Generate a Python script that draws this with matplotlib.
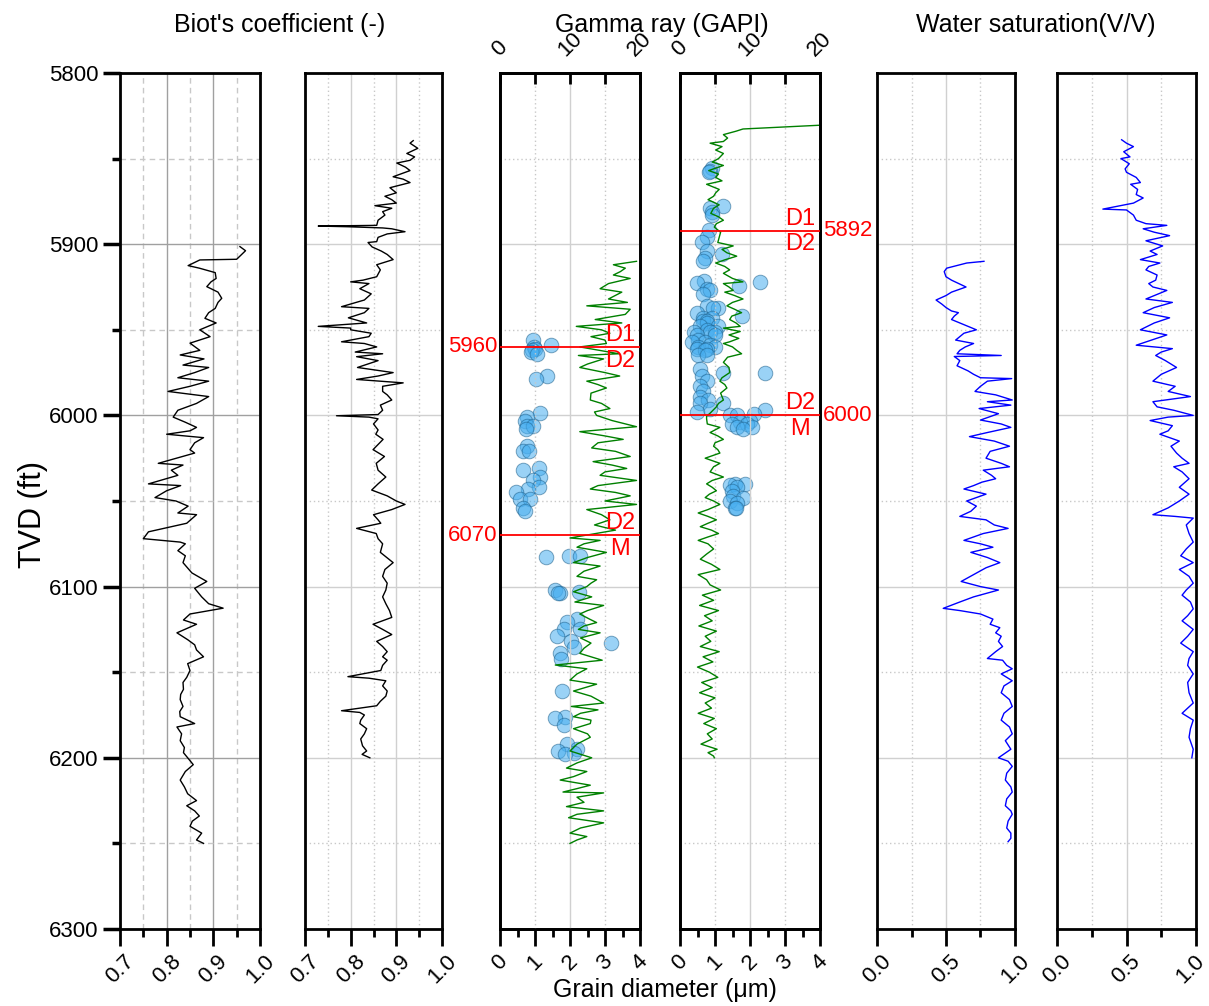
import numpy as np
import matplotlib
matplotlib.use("Agg")
import matplotlib.pyplot as plt
import matplotlib.transforms as mtransforms
from matplotlib.ticker import MultipleLocator, FixedLocator

plt.rcParams['font.family'] = ['Liberation Sans', 'DejaVu Sans']

# ---- dados (profundidade TVD em ft, valor) ----
biot1 = [(5901.4,0.957),(5903.8,0.969),(5908.8,0.95),(5909.2,0.871),(5912.5,0.846),(5914,0.87),(5916.6,0.904),
         (5920,0.906),(5922,0.895),(5924.8,0.886),(5928,0.91),(5931.6,0.918),(5934,0.91),(5937.5,0.904),(5940,0.89),
         (5943.3,0.882),(5946,0.906),(5950,0.871),(5954,0.893),(5957.8,0.85),(5962,0.871),(5964.7,0.829),(5967,0.88),
         (5970.6,0.835),(5972,0.89),(5975,0.86),(5978,0.824),(5980,0.89),(5983,0.85),(5986,0.803),(5989,0.89),
         (5993,0.864),(5997,0.824),(6001,0.814),(6004,0.84),(6007,0.864),(6009,0.85),(6011,0.80),(6013,0.879),
         (6016,0.86),(6020,0.85),(6022,0.86),(6028,0.782),(6029,0.835),(6032,0.81),(6035,0.824),(6040,0.761),
         (6041,0.83),(6044,0.8),(6048,0.775),(6050,0.82),(6053,0.846),(6057,0.824),(6058,0.864),(6063,0.843),
         (6068,0.761),(6072,0.75),(6074,0.829),(6075,0.84),(6079,0.824),(6082,0.84),(6086,0.835),(6092,0.854),
         (6097,0.886),(6101,0.86),(6106,0.875),(6110,0.89),(6112.6,0.921),(6116,0.85),(6119.5,0.836),(6122,0.864),
         (6127,0.822),(6131,0.845),(6134,0.86),(6137,0.864),(6141,0.879),(6145,0.845),(6149,0.85),(6153,0.843),
         (6156,0.835),(6160,0.836),(6163,0.83),(6166,0.829),(6170,0.835),(6173,0.828),(6176,0.829),(6180,0.86),
         (6182,0.822),(6186,0.832),(6190,0.829),(6194,0.838),(6197,0.836),(6200,0.845),(6204,0.857),(6208,0.84),
         (6213,0.829),(6217,0.838),(6221,0.845),(6225,0.864),(6228,0.843),(6231,0.86),(6234,0.87),(6237,0.855),
         (6240,0.85),(6244,0.875),(6248,0.864),(6250,0.879)]

biot2 = [(5839.5,0.937),(5841,0.93),(5844,0.947),(5847,0.923),(5849,0.94),(5851,0.93),(5852.6,0.901),(5855,0.92),
         (5857,0.93),(5860.6,0.893),(5862,0.915),(5864,0.93),(5867,0.886),(5870,0.9),(5872,0.875),(5874,0.89),
         (5876,0.9),(5877.5,0.853),(5879,0.89),(5881,0.87),(5883,0.875),(5886,0.86),(5889,0.857),(5889.4,0.729),
         (5889.8,0.794),(5890.5,0.87),(5891,0.89),(5892.7,0.919),(5894,0.88),(5896,0.86),(5898.5,0.857),(5899,0.838),
         (5901.6,0.847),(5904,0.867),(5906,0.88),(5909,0.893),(5912,0.857),(5915,0.865),(5919,0.857),(5921,0.827),
         (5922,0.80),(5923,0.84),(5926,0.82),(5929,0.845),(5932.6,0.83),(5936.5,0.78),(5937.5,0.84),(5940,0.83),
         (5943,0.795),(5946,0.835),(5948,0.729),(5949,0.8),(5950,0.8),(5952,0.845),(5954,0.84),(5957,0.78),
         (5958,0.83),(5960,0.857),(5963,0.81),(5964,0.87),(5965.7,0.813),(5968,0.86),(5972,0.815),(5975,0.893),
         (5977,0.86),(5979,0.813),(5981,0.915),(5983,0.87),(5986,0.87),(5988,0.88),(5991,0.89),(5994,0.865),
         (5997,0.87),(5999.5,0.86),(6000.2,0.769),(6001,0.84),(6002,0.86),(6005,0.85),(6008.5,0.86),(6011,0.855),
         (6014,0.871),(6017,0.86),(6020,0.849),(6024,0.874),(6028,0.856),(6032,0.86),(6036,0.877),(6040,0.86),
         (6043.6,0.846),(6047,0.88),(6050,0.9),(6052,0.919),(6055,0.89),(6058,0.85),(6061,0.86),(6063,0.866),
         (6066,0.813),(6069,0.856),(6072,0.86),(6075,0.87),(6080,0.865),(6086,0.893),(6090,0.875),(6094,0.87),
         (6098,0.88),(6102,0.877),(6106,0.87),(6110,0.877),(6114,0.885),(6118,0.89),(6122,0.849),(6125,0.87),
         (6128,0.89),(6132,0.857),(6135,0.87),(6138,0.88),(6141,0.87),(6143,0.88),(6146,0.87),(6149,0.866),
         (6152.6,0.794),(6153.5,0.84),(6155,0.877),(6158,0.87),(6161,0.88),(6164,0.877),(6167,0.865),(6169.6,0.857),
         (6172.5,0.78),(6173.5,0.82),(6175,0.83),(6178,0.822),(6180,0.82),(6183,0.835),(6186,0.83),(6189,0.822),
         (6193,0.826),(6196,0.835),(6198,0.825),(6200,0.842)]

gr3 = [(5910,19.5),(5912,16.2),(5914,17.9),(5916,17.2),(5918,16.2),(5920,18.6),(5923,15.5),(5926,14.3),(5928,17.4),
       (5932,15.5),(5934,18.2),(5936,12.4),(5938,18.6),(5941,17.9),(5944,13.6),(5946,17.4),(5948,10.9),(5950,14.5),
       (5952,15.7),(5954,13.0),(5956,15.0),(5958,15.2),(5960,11.4),(5962,14.2),(5964,17.0),(5965,11.2),(5967,14.8),
       (5970,12.5),(5972,11.4),(5975,15.0),(5977,17.1),(5980,12.4),(5982,14.0),(5984,15.2),(5987,13.0),(5991,12.9),
       (5993,14.5),(5996,15.7),(5998,13.5),(6000,13.8),(6003,16.0),(6006.6,19.5),(6009.5,11.4),(6012,15.0),
       (6014,17.6),(6016,14.0),(6019,13.1),(6021,16.5),(6024,18.6),(6027,13.3),(6029,16.0),(6031,18.1),(6033,15.0),
       (6035,14.3),(6038,19.5),(6041,14.0),(6043,12.9),(6045,16.5),(6047,18.6),(6050,15.0),(6052,19.5),(6055,12.4),
       (6058,14.5),(6061,15.7),(6064,13.5),(6067,16.5),(6071.6,10.0),(6073,14.3),(6075,12.0),(6077,11.0),
       (6080,15.2),(6083,12.5),(6086,10.5),(6088,14.3),(6091,12.0),(6094,11.0),(6096,13.8),(6098,13.0),(6100,12.4),
       (6103,10.5),(6106,13.1),(6109,10.7),(6111,14.8),(6114,12.5),(6116,11.4),(6119,12.8),(6121,13.8),(6123,12.0),
       (6125,11.2),(6127,14.3),(6130,11.5),(6133,13.0),(6136,12.0),(6139,11.4),(6143,14.6),(6145.8,7.9),(6148,12.4),
       (6151,11.0),(6154.6,10.0),(6157,13.8),(6161,10.5),(6164,13.0),(6168,14.8),(6170,10.2),(6172,14.0),
       (6174,11.5),(6176,10.5),(6178,13.0),(6180,12.9),(6183,10.5),(6186,12.5),(6188,12.9),(6192,11.0),(6196,10.0),
       (6200,13.1),(6203,11.0),(6206,9.5),(6208,12.4),(6211,10.5),(6213,8.6),(6216,12.9),(6218,11.0),(6220,9.0),
       (6220.5,14.8),(6223,11.0),(6226,12.0),(6228.5,9.5),(6231,14.8),(6233,11.0),(6235,9.8),(6238,14.8),
       (6241,11.5),(6244,10.0),(6246,12.4),(6248,11.0),(6250,10.0)]

grain3 = [(5956,0.95),(5959,1.46),(5960,0.97),(5961,1.0),(5962,0.9),(5963,0.88),(5964,1.05),(5977,1.33),(5979,1.03),
          (5998.6,1.13),(6000.7,0.76),(6003,0.71),(6006,0.76),(6006,0.93),(6008,0.74),(6018,0.78),(6021,0.67),
          (6021,0.84),(6031,1.1),(6032,0.67),(6036,1.14),(6038,0.95),(6042,1.1),(6043,0.81),(6045,0.46),(6049,0.57),
          (6049,0.86),(6054,0.67),(6056,0.71),(6082,1.98),(6082,2.29),(6083,1.31),(6102,1.57),(6103,2.26),
          (6104,1.71),(6104,1.65),(6119,2.2),(6120.5,1.9),(6125,1.83),(6125,2.29),(6129,1.64),(6132,2.02),
          (6133,3.17),(6135,2.12),(6139,1.71),(6142,1.73),(6161,1.78),(6176,1.86),(6177,1.57),(6181,1.83),
          (6192,1.9),(6195,2.2),(6196,1.67),(6197,2.1),(6198,1.86)]

gr4 = [(5830.5,20.0),(5832.7,9.0),(5834,8.0),(5836,6.2),(5838,6.8),(5840,6.2),(5841,4.3),(5843,6.0),(5845,5.1),
       (5847,6.2),(5850,5.5),(5852,4.6),(5854,6.2),(5857,4.1),(5859,5.5),(5861,5.1),(5863,6.0),(5865,3.8),(5868,5.6),
       (5870,5.1),(5872,4.8),(5874,4.0),(5877,5.6),(5879,4.8),(5882,4.4),(5884,5.5),(5886,6.2),(5888,5.2),(5890,4.9),
       (5893,5.8),(5896,5.6),(5899,5.4),(5901,7.6),(5903,6.0),(5905,6.7),(5907,8.1),(5909,6.5),(5911,5.1),(5913,6.4),
       (5915,7.1),(5917,6.2),(5920,7.5),(5922,9.0),(5923,6.2),(5925,7.0),(5927,7.6),(5928,6.4),(5930,7.8),(5932,9.0),
       (5934,7.5),(5936,6.7),(5938,7.8),(5940,8.8),(5942,7.4),(5944,7.1),(5946,8.0),(5948,8.6),(5949,6.2),(5951,8.6),
       (5953,7.0),(5955,8.4),(5957,7.1),(5958,6.2),(5960,7.5),(5962,8.1),(5964,8.8),(5966,6.8),(5969,6.2),(5972,7.0),
       (5975,7.1),(5978,6.0),(5980,5.7),(5982,6.4),(5984,6.7),(5987,5.8),(5991,6.2),(5993,5.5),(5995,5.2),
       (5998.7,4.3),(6000.5,3.8),(6002,3.8),(6005,3.9),(6007,5.7),(6010,4.3),(6012,5.4),(6014,6.2),(6016,5.0),
       (6018,4.8),(6020,5.4),(6022,5.7),(6025,3.6),(6028,5.7),(6030,4.8),(6033,4.3),(6036,6.2),(6038,4.6),(6040,3.8),
       (6042,4.6),(6044,5.2),(6046,4.2),(6048,3.6),(6050,4.8),(6052,5.7),(6055,4.0),(6057,2.6),(6059,4.0),(6061,5.2),
       (6063,4.0),(6065,2.9),(6067,4.5),(6069,5.5),(6071,4.0),(6073,2.6),(6075,4.0),(6078,4.8),(6081,3.8),(6084,2.9),
       (6087,4.5),(6090,5.7),(6093,2.6),(6096,3.8),(6099,4.3),(6102,5.8),(6105,3.2),(6108,4.8),(6111,2.8),(6114,5.5),
       (6117,3.5),(6120,4.6),(6123,2.7),(6126,5.2),(6129,3.6),(6132,4.4),(6135,2.9),(6138,5.6),(6141,3.3),(6144,4.7),
       (6147,2.5),(6150,4.2),(6153,5.4),(6156,3.1),(6159,4.6),(6162,2.8),(6165,5.0),(6168,3.6),(6171,4.5),(6174,2.6),
       (6177,4.9),(6180,3.4),(6183,5.2),(6186,3.9),(6189,4.6),(6192,3.0),(6195,5.3),(6197,4.0),(6199,4.8),(6200,4.9)]

grain4 = [(5855.5,0.9),(5857,0.87),(5858,0.84),(5877.5,1.22),(5879,0.87),(5881,0.92),(5883,0.9),(5891.7,0.82),
          (5896,0.76),(5898.6,0.64),(5904,0.76),(5906,1.19),(5908,0.71),(5910,0.67),(5921.6,0.68),(5922,2.29),
          (5922.7,0.48),(5924.6,1.69),(5926,0.76),(5927,0.86),(5929,0.67),(5936,0.76),(5937,1.09),(5937,0.95),
          (5940,0.48),(5942,1.76),(5943,0.67),(5943,0.9),(5945,0.67),(5945,0.78),(5946,0.76),(5948,1.09),(5948,0.57),
          (5950,0.76),(5951,1.0),(5951,0.4),(5951,0.86),(5953,0.48),(5953,1.0),(5956,0.52),(5957,0.71),(5957,0.33),
          (5958.6,0.86),(5960,0.52),(5960,1.0),(5961,0.48),(5961,0.76),(5962,0.71),(5965,0.52),(5965,0.76),
          (5973,0.57),(5975,1.24),(5975,2.43),(5977,0.62),(5980,0.76),(5983,0.57),(5986,0.67),(5989,0.57),
          (5991,0.81),(5993,1.24),(5993,0.57),(5996,0.86),(5997,2.43),(5998,0.48),(5999,2.1),(5999.6,1.43),
          (6000,1.62),(6003,2.0),(6004,1.71),(6005,1.9),(6005,1.48),(6007,1.62),(6007,2.05),(6008,1.81),
          (6040,1.57),(6040,1.86),(6040.6,1.43),(6042,1.62),(6044,1.48),(6047,1.52),(6048,1.81),(6050,1.43),
          (6051,1.62),(6054,1.57),(6054,1.6)]

sw5 = [(5910,0.775),(5911,0.65),(5914,0.505),(5916,0.487),(5919,0.5),(5921,0.54),(5925,0.645),(5928,0.54),(5930,0.5),
       (5932.6,0.428),(5935,0.47),(5937,0.5),(5939,0.54),(5940,0.59),(5942,0.56),(5944,0.54),(5946,0.6),(5948,0.66),
       (5950,0.72),(5952,0.63),(5954,0.6),(5956,0.57),(5958,0.7),(5960,0.64),(5962,0.6),(5964,0.58),(5965,0.9),
       (5965.6,0.56),(5968,0.6),(5971,0.58),(5974,0.66),(5976,0.7),(5978,0.75),(5978.5,0.976),(5980,0.8),(5983,0.75),
       (5986,0.71),(5988,0.86),(5991,0.98),(5992,0.8),(5994,0.97),(5996,0.74),(5999,0.88),(6002.7,0.75),(6005,0.9),
       (6007,0.97),(6010,0.8),(6012.4,0.67),(6015,0.85),(6018,0.96),(6021,0.82),(6025,0.79),(6028,0.9),(6030,0.96),
       (6032,0.77),(6035,0.83),(6037,0.86),(6039,0.76),(6041,0.7),(6043,0.63),(6046,0.79),(6048,0.72),(6050,0.65),
       (6053,0.72),(6056,0.68),(6059,0.6),(6061,0.79),(6064,0.85),(6066,0.95),(6069,0.77),(6071,0.7),(6073,0.63),
       (6075,0.75),(6077,0.84),(6080,0.68),(6083,0.8),(6086,0.89),(6089,0.79),(6093,0.7),(6097,0.61),(6100,0.75),
       (6102,0.88),(6106,0.7),(6109,0.6),(6112.7,0.48),(6114,0.6),(6116,0.75),(6119,0.84),(6122,0.82),(6124,0.89),
       (6127,0.86),(6129,0.9),(6132,0.88),(6135,0.91),(6138,0.86),(6142,0.8),(6143,0.91),(6146,0.94),(6148,0.98),
       (6151,0.9),(6155,0.98),(6158,0.92),(6162,0.9),(6166,0.96),(6170,0.98),(6174,0.92),(6178,0.9),(6182,0.96),
       (6186,0.98),(6190,0.93),(6195,0.97),(6200,0.88),(6202,0.95),(6205,0.98),(6209,0.94),(6213,0.93),(6217,0.97),
       (6220,0.98),(6224,0.94),(6228,0.93),(6231,0.97),(6233,0.98),(6237,0.95),(6241,0.94),(6244,0.97),(6247,0.97),
       (6249,0.95)]

sw6 = [(5839,0.465),(5841,0.5),(5843,0.55),(5846,0.48),(5849,0.525),(5850,0.46),(5853,0.52),(5856,0.49),(5858,0.5),
       (5861,0.57),(5864,0.6),(5865,0.53),(5868,0.58),(5871,0.57),(5873,0.62),(5876,0.55),(5879.5,0.33),(5880,0.5),
       (5883,0.55),(5886,0.57),(5888,0.64),(5889,0.79),(5891,0.62),(5893,0.7),(5895,0.81),(5898,0.64),(5901,0.76),
       (5904,0.67),(5906,0.72),(5909,0.6),(5911,0.74),(5913,0.66),(5915,0.64),(5918,0.72),(5921,0.71),(5923,0.66),
       (5925,0.69),(5927,0.79),(5930,0.7),(5932,0.64),(5934,0.83),(5937,0.7),(5940,0.62),(5943,0.81),(5946,0.7),
       (5950,0.6),(5953,0.79),(5956,0.68),(5959,0.57),(5961,0.83),(5963,0.75),(5965,0.71),(5968,0.78),(5972,0.86),
       (5976,0.75),(5980,0.69),(5983,0.85),(5986,0.8),(5989,0.96),(5992,0.69),(5995,0.72),(5997,0.84),(6000,0.98),
       (6001,0.8),(6003,0.67),(6006,0.83),(6009,0.8),(6011,0.74),(6015,0.88),(6018,0.82),(6022,0.86),(6025,0.9),
       (6028,0.95),(6030,0.84),(6033,0.9),(6037,0.95),(6042,0.88),(6046,0.95),(6050,0.88),(6054,0.8),(6058,0.69),
       (6059,0.85),(6060,0.98),(6064,0.93),(6069,0.95),(6074,0.98),(6078,0.93),(6082,0.89),(6086,0.98),(6090,0.88),
       (6094,0.95),(6098,0.98),(6102,0.93),(6105,0.9),(6109,0.96),(6113,0.98),(6117,0.94),(6120,0.9),(6125,0.98),
       (6129,0.94),(6133,0.89),(6138,0.98),(6142,0.95),(6146,0.94),(6151,0.98),(6156,0.94),(6162,0.95),(6168,0.98),
       (6174,0.9),(6178,0.98),(6183,0.96),(6188,0.95),(6195,0.98),(6200,0.97)]

# limites de zonas (D1/D2/M)
tops3 = [5960, 6070]
tops3_up = ['D1', 'D2']
tops3_dn = ['D2', 'M']
tops4 = [5892, 6000]
tops4_up = ['D1', 'D2']
tops4_dn = ['D2', 'M']

W, H = 1209, 1006
fig = plt.figure(figsize=(W/100, H/100), dpi=100)


def make_ax(left, width):
    ax = fig.add_axes([left/W, 1-929/H, width/W, 856/H])
    ax.set_ylim(6300, 5800)
    ax.yaxis.set_major_locator(MultipleLocator(100))
    ax.yaxis.set_minor_locator(MultipleLocator(50))
    for s in ax.spines.values():
        s.set_linewidth(2)
    ax.tick_params(axis='x', which='major', direction='out', length=12, width=2, labelsize=16, labelrotation=45, pad=4)
    ax.tick_params(axis='x', which='minor', direction='out', length=6, width=2)
    ax.tick_params(axis='y', which='both', left=False, labelleft=False)
    ax.set_axisbelow(True)
    return ax


def grid_style(ax, dark=False, xgrid=True):
    if dark:
        major = dict(color='#a0a0a0', lw=1.0, ls='-')
        minor = dict(color='#c8c8c8', lw=1.0, ls=(0, (4, 3)))
    else:
        major = dict(color='#d0d0d0', lw=1.0, ls='-')
        minor = dict(color='#c8c8c8', lw=1.0, ls=(0, (1, 2)))
    ax.yaxis.grid(True, which='major', **major)
    ax.yaxis.grid(True, which='minor', **minor)
    if xgrid:
        ax.xaxis.grid(True, which='major', **major)
        ax.xaxis.grid(True, which='minor', **minor)


def unpack(pairs):
    d, v = zip(*pairs)
    return np.array(d), np.array(v)


# ---- Biot ----
for i, (left, width, data) in enumerate([(120, 140, biot1), (305, 137, biot2)]):
    ax = make_ax(left, width)
    ax.set_xlim(0.7, 1.0)
    ax.xaxis.set_major_locator(FixedLocator([0.7, 0.8, 0.9, 1.0]))
    ax.xaxis.set_minor_locator(FixedLocator([0.75, 0.85, 0.95]))
    ax.set_xticklabels(['0.7', '0.8', '0.9', '1.0'])
    grid_style(ax, dark=(i == 0))
    d, v = unpack(data)
    ax.plot(v, d, color='black', lw=1.0)
    if i == 0:
        ax.tick_params(axis='y', which='major', left=True, labelleft=True, direction='out',
                       length=12, width=2.5, labelsize=16)
        ax.tick_params(axis='y', which='minor', left=True, direction='out', length=6, width=2.5)

# ---- Gamma ray + grain diameter ----
panels = [(500, gr3, grain3, tops3, tops3_up, tops3_dn, 'left'),
          (680, gr4, grain4, tops4, tops4_up, tops4_dn, 'right')]
for left, gr, grain, tops, ups, dns, side in panels:
    ax = make_ax(left, 140)
    ax.set_xlim(0, 4)
    ax.xaxis.set_major_locator(MultipleLocator(1))
    ax.xaxis.set_minor_locator(MultipleLocator(0.5))
    grid_style(ax, xgrid=False)
    dg, vg = unpack(grain)
    ax.scatter(vg, dg, s=110, color='#47aef0', alpha=0.55, edgecolor='#1d5f8a', linewidth=0.7, zorder=3)

    ax2 = ax.twiny()
    ax2.set_xlim(0, 20)
    ax2.xaxis.set_major_locator(FixedLocator([0, 10, 20]))
    ax2.xaxis.set_minor_locator(FixedLocator([5, 15]))
    ax2.tick_params(axis='x', which='major', direction='in', length=8, width=2, labelsize=16,
                    labelrotation=45, pad=9)
    ax2.tick_params(axis='x', which='minor', direction='in', length=8, width=2)
    ax2.xaxis.grid(True, which='major', color='#d0d0d0', lw=1.0, ls='-')
    ax2.xaxis.grid(True, which='minor', color='#c8c8c8', lw=1.0, ls=(0, (1, 2)))
    ax2.set_axisbelow(True)
    for s in ax2.spines.values():
        s.set_linewidth(2)
    d, v = unpack(gr)
    ax2.plot(v, d, color='green', lw=1.0, zorder=2)

    tr = ax.get_yaxis_transform()
    for depth, up, dn in zip(tops, ups, dns):
        ax2.axhline(depth, color='red', lw=1.3, zorder=5)
        ax2.text(0.86, depth - 7, up, transform=tr, color='red', fontsize=17, ha='center', va='center', zorder=6)
        ax2.text(0.86, depth + 8, dn, transform=tr, color='red', fontsize=17, ha='center', va='center', zorder=6)
        if side == 'left':
            ax2.text(-0.02, depth, str(depth), transform=tr, color='red', fontsize=16, ha='right',
                     va='center', clip_on=False)
        else:
            ax2.text(1.02, depth, str(depth), transform=tr, color='red', fontsize=16, ha='left',
                     va='center', clip_on=False)

# ---- Water saturation ----
for left, width, data in [(877, 138, sw5), (1057, 139, sw6)]:
    ax = make_ax(left, width)
    ax.set_xlim(0, 1)
    ax.xaxis.set_major_locator(FixedLocator([0, 0.5, 1.0]))
    ax.xaxis.set_minor_locator(FixedLocator([0.25, 0.75]))
    ax.set_xticklabels(['0.0', '0.5', '1.0'])
    grid_style(ax)
    d, v = unpack(data)
    ax.plot(v, d, color='blue', lw=1.0)

# ultimo rotulo encosta na borda: puxa um pouco para a esquerda
last = ax.get_xticklabels()[-1]
last.set_transform(last.get_transform() + mtransforms.ScaledTranslation(-6/100, 0, fig.dpi_scale_trans))

# titulos
fig.text(280/W, 1-25/H, "Biot's coefficient (-)", fontsize=18, ha='center', va='center')
fig.text(662/W, 1-25/H, "Gamma ray (GAPI)", fontsize=18, ha='center', va='center')
fig.text(1036/W, 1-25/H, "Water saturation(V/V)", fontsize=18, ha='center', va='center')
fig.text(665/W, 1-990/H, "Grain diameter (\u03bcm)", fontsize=18, ha='center', va='center')
fig.text(33/W, 1-515/H, "TVD (ft)", fontsize=22, ha='center', va='center', rotation=90)

fig.savefig('out.png', dpi=100)
